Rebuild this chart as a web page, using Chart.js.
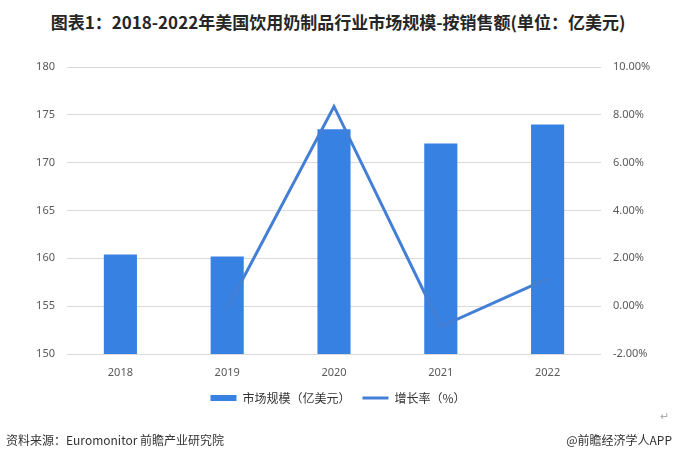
<!DOCTYPE html>
<html>
<head>
<meta charset="utf-8">
<script src="https://cdn.jsdelivr.net/npm/chart.js@4"></script>
<style>
  html, body { margin: 0; padding: 0; background: #fff; }
  body { width: 676px; height: 467px; position: relative; overflow: hidden; font-family: "Noto Sans CJK SC", "Noto Sans", sans-serif; }
  #title { position: absolute; left: 0; top: 9px; width: 676px; text-align: center; font-size: 17px; font-weight: bold; color: #262626; line-height: 26px; }
  #wrap { position: absolute; left: 0; top: 0; width: 676px; height: 467px; }
  .foot { position: absolute; top: 431px; font-size: 12px; color: #333; line-height: 18px; }
  #src { left: 6px; }
  #app { right: 4px; }
  #mark { position: absolute; left: 660px; top: 407px; font-size: 11px; color: #aaa; }
</style>
</head>
<body>
<div id="title">图表1：2018-2022年美国饮用奶制品行业市场规模-按销售额(单位：亿美元)</div>
<div id="wrap"><canvas id="chart" width="676" height="467"></canvas></div>
<div id="mark">↵</div>
<div class="foot" id="src">资料来源：Euromonitor 前瞻产业研究院</div>
<div class="foot" id="app">@前瞻经济学人APP</div>
<script>
// values
const years = ['2018', '2019', '2020', '2021', '2022'];
const marketSize = [160.4, 160.2, 173.5, 172.0, 174.0];   // 亿美元
const growthRate = [null, -0.1, 8.35, -0.85, 1.15];       // %

const barColor = '#3781e3';
const lineColor = '#447fd6';
const tickColor = '#595959';
const tickFont = { family: 'Noto Sans, sans-serif', size: 11 };

new Chart(document.getElementById('chart').getContext('2d'), {
  data: {
    labels: years,
    datasets: [
      {
        type: 'line',
        label: '增长率（%）',
        data: growthRate,
        yAxisID: 'y1',
        borderColor: lineColor,
        backgroundColor: lineColor,
        borderWidth: 3,
        pointRadius: 0,
        pointStyle: 'line',
        tension: 0,
        spanGaps: false,
        order: 0
      },
      {
        type: 'bar',
        label: '市场规模（亿美元）',
        data: marketSize,
        yAxisID: 'y',
        backgroundColor: barColor,
        borderWidth: 0,
        pointStyle: 'rect',
        barPercentage: 0.31,
        categoryPercentage: 1,
        order: 1
      }
    ]
  },
  options: {
    responsive: false,
    animation: false,
    layout: { padding: { top: 67, left: 0, right: 0, bottom: 53 } },
    plugins: {
      title: { display: false },
      tooltip: { enabled: false },
      legend: {
        position: 'bottom',
        reverse: true,
        labels: {
          usePointStyle: true,
          pointStyleWidth: 26,
          boxHeight: 6,
          padding: 12,
          color: '#333',
          font: { family: 'Noto Sans CJK SC', size: 12 }
        }
      }
    },
    scales: {
      x: {
        grid: { display: false, drawTicks: false },
        border: { display: false },
        ticks: { color: tickColor, font: tickFont, padding: 12 },
        afterFit: s => { s.height = 26; }
      },
      y: {
        position: 'left',
        min: 150,
        max: 180,
        ticks: { stepSize: 5, color: tickColor, font: tickFont, padding: 12 },
        grid: { color: '#d9d9d9', drawTicks: false },
        border: { display: false },
        afterFit: s => { s.width = 67; }
      },
      y1: {
        position: 'right',
        min: -2,
        max: 10,
        ticks: {
          stepSize: 2,
          color: tickColor,
          font: tickFont,
          padding: 12,
          callback: v => v.toFixed(2) + '%'
        },
        grid: { display: false, drawTicks: false },
        border: { display: false },
        afterFit: s => { s.width = 75; }
      }
    }
  }
});
</script>
</body>
</html>
